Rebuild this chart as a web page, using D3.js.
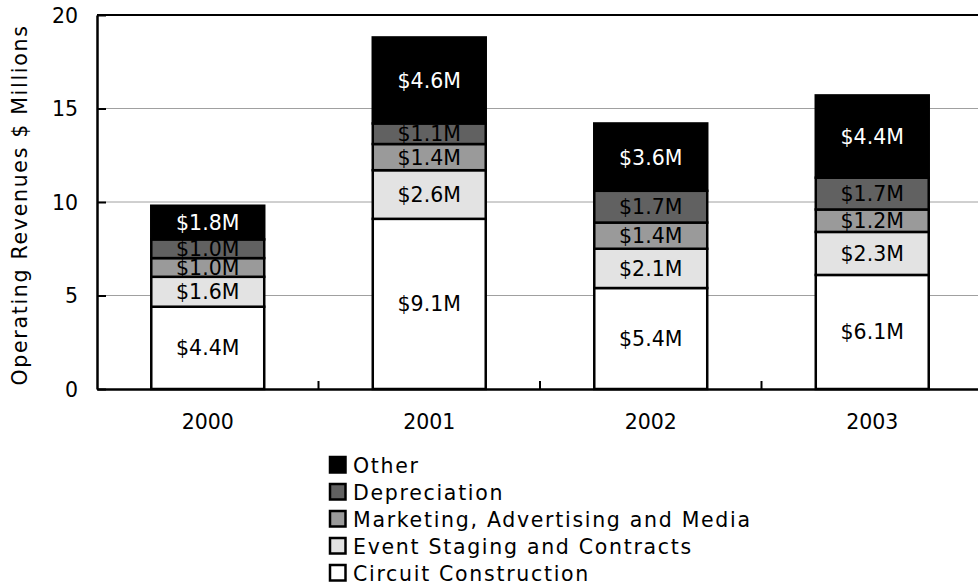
<!DOCTYPE html>
<html>
<head>
<meta charset="utf-8">
<script src="https://cdn.jsdelivr.net/npm/d3@7"></script>
<style>
  html, body { margin: 0; padding: 0; background: #fff; }
  svg { display: block; }
  text { font-family: "DejaVu Sans", Verdana, sans-serif; }
</style>
</head>
<body>
<svg id="chart" width="978" height="586"></svg>
<script>
// Operating revenues by year, split by cost component ($ millions)
const years = ["2000", "2001", "2002", "2003"];
const seriesNames = ["Circuit Construction", "Event Staging and Contracts", "Marketing, Advertising and Media", "Depreciation", "Other"];
const circuitConstruction = [4.4, 9.1, 5.4, 6.1];
const eventStaging = [1.6, 2.6, 2.1, 2.3];
const marketing = [1.0, 1.4, 1.4, 1.2];
const depreciation = [1.0, 1.1, 1.7, 1.7];
const other = [1.8, 4.6, 3.6, 4.4];
const yTicks = [0, 5, 10, 15, 20];

const fills = ["#ffffff", "#e3e3e3", "#9a9a9a", "#616161", "#000000"];
const labelColors = ["#000", "#000", "#000", "#000", "#fff"];

const rows = years.map((y, i) => ({
  year: y,
  "Circuit Construction": circuitConstruction[i],
  "Event Staging and Contracts": eventStaging[i],
  "Marketing, Advertising and Media": marketing[i],
  "Depreciation": depreciation[i],
  "Other": other[i]
}));

const FONT = "'DejaVu Sans', Verdana, sans-serif";
const FS = 20.5;
const svg = d3.select("#chart");
const plot = { left: 97, right: 983, top: 15, bottom: 389 };

const x = d3.scaleBand().domain(years).range([plot.left, plot.right])
  .paddingInner(0.49).paddingOuter(0.245);
const y = d3.scaleLinear().domain([0, 20]).range([plot.bottom, plot.top]);

const stack = d3.stack().keys(seriesNames)(rows);

// horizontal gridlines
svg.append("g").selectAll("line")
  .data(yTicks.filter(t => t > 0 && t < 20))
  .join("line")
  .attr("x1", plot.left).attr("x2", plot.right)
  .attr("y1", d => y(d)).attr("y2", d => y(d))
  .attr("stroke", "#a0a0a0").attr("stroke-width", 1);

// plot frame (top edge)
svg.append("line")
  .attr("x1", plot.left).attr("x2", plot.right)
  .attr("y1", plot.top).attr("y2", plot.top)
  .attr("stroke", "#000").attr("stroke-width", 2);

// stacked bars
const layers = svg.append("g").selectAll("g")
  .data(stack).join("g")
  .attr("fill", (d, i) => fills[i]);

layers.selectAll("rect")
  .data(d => d).join("rect")
  .attr("x", d => x(d.data.year))
  .attr("width", x.bandwidth())
  .attr("y", d => y(d[1]))
  .attr("height", d => y(d[0]) - y(d[1]))
  .attr("stroke", "#000").attr("stroke-width", 2.5);

// value labels
stack.forEach((layer, i) => {
  svg.append("g").selectAll("text")
    .data(layer).join("text")
    .attr("x", d => x(d.data.year) + x.bandwidth() / 2)
    .attr("y", d => (y(d[0]) + y(d[1])) / 2)
    .attr("dy", "0.36em")
    .attr("text-anchor", "middle")
    .attr("font-family", FONT)
    .attr("font-size", FS)
    .attr("fill", labelColors[i])
    .text(d => "$" + (d[1] - d[0]).toFixed(1) + "M");
});

// y axis
const yAxis = svg.append("g")
  .attr("transform", `translate(${plot.left},0)`)
  .call(d3.axisLeft(y).tickValues(yTicks).tickSizeInner(-9).tickSizeOuter(0));
yAxis.select(".domain").attr("stroke", "#000").attr("stroke-width", 2.5);
yAxis.selectAll(".tick line").attr("stroke", "#000").attr("stroke-width", 2);
yAxis.selectAll(".tick text")
  .attr("x", -19).attr("dy", "0.36em")
  .attr("font-family", FONT)
  .attr("font-size", FS).attr("fill", "#000");

// x axis
const xAxis = svg.append("g")
  .attr("transform", `translate(0,${plot.bottom})`)
  .call(d3.axisBottom(x).tickSize(0));
xAxis.select(".domain").attr("stroke", "#000").attr("stroke-width", 2.5);
xAxis.selectAll(".tick text")
  .attr("y", 40).attr("dy", null)
  .attr("font-family", FONT)
  .attr("font-size", FS).attr("fill", "#000");

// category separators on the baseline
svg.append("g").selectAll("line")
  .data(years.slice(1))
  .join("line")
  .attr("x1", d => x(d) - x.step() * x.paddingInner() / 2)
  .attr("x2", d => x(d) - x.step() * x.paddingInner() / 2)
  .attr("y1", plot.bottom).attr("y2", plot.bottom - 8)
  .attr("stroke", "#000").attr("stroke-width", 2);

// y axis title
svg.append("text")
  .attr("transform", `translate(27,${(plot.top + plot.bottom) / 2 + 3}) rotate(-90)`)
  .attr("text-anchor", "middle")
  .attr("font-family", FONT)
  .attr("font-size", FS)
  .attr("letter-spacing", 1.7)
  .attr("fill", "#000")
  .text("Operating Revenues $ Millions");

// legend, top entry is the top of the stack
const legendItems = seriesNames.map((n, i) => ({ name: n, fill: fills[i] })).reverse();
const legend = svg.append("g").attr("transform", "translate(330,457)");
const li = legend.selectAll("g").data(legendItems).join("g")
  .attr("transform", (d, i) => `translate(0,${i * 27})`);
li.append("rect")
  .attr("width", 15.5).attr("height", 15.5)
  .attr("fill", d => d.fill).attr("stroke", "#000").attr("stroke-width", 2.5);
li.append("text")
  .attr("x", 23).attr("y", 8.5).attr("dy", "0.36em")
  .attr("font-family", FONT)
  .attr("font-size", FS).attr("letter-spacing", 1.7)
  .attr("fill", "#000")
  .text(d => d.name);
</script>
</body>
</html>
